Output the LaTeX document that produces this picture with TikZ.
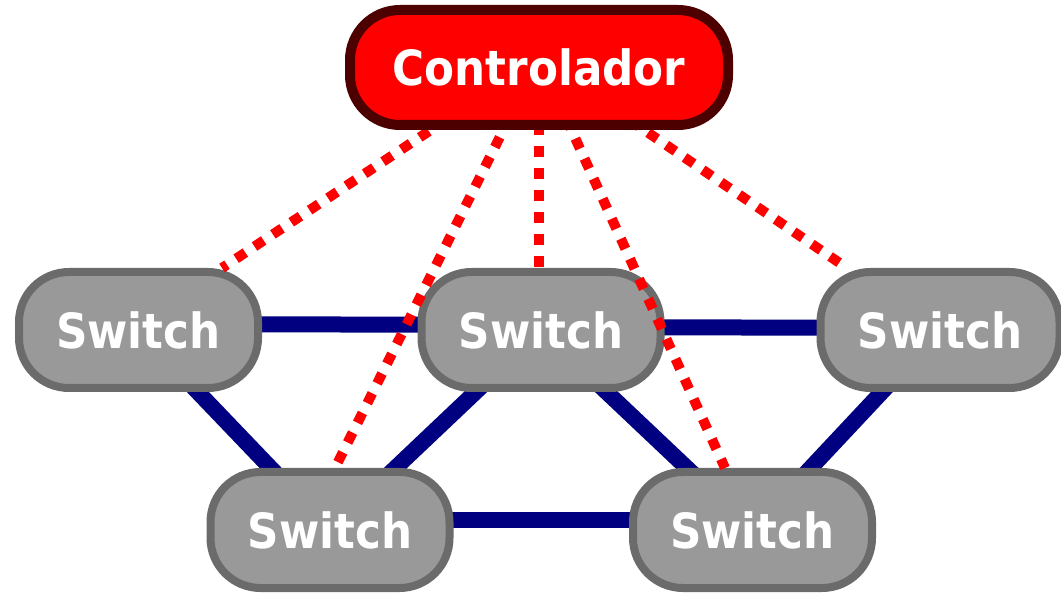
\documentclass[tikz,border=0pt]{standalone}
\usepackage{fontspec}
\newfontfamily\labelfont{DejaVu Sans}[FakeStretch=0.9]
\usetikzlibrary{calc}

\definecolor{swfill}{HTML}{999999}
\definecolor{swline}{HTML}{6B6B6B}
\definecolor{ctrlfill}{HTML}{FF0000}
\definecolor{ctrlline}{HTML}{4D0000}
\definecolor{linkblue}{HTML}{000080}
\definecolor{ctrldot}{HTML}{FF0000}

\pgfdeclarelayer{bg}
\pgfdeclarelayer{fg}
\pgfsetlayers{bg,main,fg}

\tikzset{
  switchbox/.style={draw=swline, fill=swfill, line width=8pt,
    rounded corners=50pt, minimum width=239pt, minimum height=116pt,
    inner sep=0pt, text=white,
    font=\labelfont\bfseries\fontsize{48.5}{56}\selectfont},
  ctrlbox/.style={draw=ctrlline, fill=ctrlfill, line width=10pt,
    rounded corners=50pt, minimum width=378pt, minimum height=115pt,
    inner sep=0pt, text=white,
    font=\labelfont\bfseries\fontsize{48.5}{56}\selectfont},
  datalink/.style={draw=linkblue, line width=16pt},
  ctrllink/.style={draw=ctrldot, line width=10pt,
    dash pattern=on 11pt off 11pt}
}

\begin{document}
\begin{tikzpicture}[x=1pt, y=-1pt]
  \useasboundingbox (0,0) rectangle (1061,593);

  % switches
  \node[switchbox] (s1) at (138.5,330) {Switch};
  \node[switchbox] (s2) at (541,330)   {Switch};
  \node[switchbox] (s3) at (940,330)   {Switch};
  \node[switchbox] (s4) at (330,530)   {Switch};
  \node[switchbox] (s5) at (752.5,530) {Switch};

  % controller, kept above everything else
  \begin{pgfonlayer}{fg}
    \node[ctrlbox] (ctrl) at (539,67.5) {Controlador};
  \end{pgfonlayer}

  % data-plane links between switches
  \begin{pgfonlayer}{bg}
    \draw[datalink] ([yshift=6pt]s1.center) -- ([yshift=5pt]s2.center);
    \draw[datalink] ([yshift=3pt]s2.center) -- ([yshift=2pt]s3.center);
    \draw[datalink] (s1.center) -- (s4.center);
    \draw[datalink] (s2.center) -- (s4.center);
    \draw[datalink] (s2.center) -- (s5.center);
    \draw[datalink] (s3.center) -- (s5.center);
    \draw[datalink] ([yshift=10pt]s4.center) -- ([yshift=10pt]s5.center);
  \end{pgfonlayer}

  % control channels from the controller to each switch
  \coordinate (hub) at ([yshift=9pt]ctrl.center);
  \coordinate (t1) at ([xshift=83.5pt]s1.north);
  \coordinate (t2) at ([xshift=5pt]s4.north);
  \coordinate (t3) at ([xshift=-2pt]s2.north);
  \coordinate (t4) at ([xshift=-27.5pt]s5.north);
  \coordinate (t5) at ([xshift=-93pt]s3.north);
  \draw[ctrllink] (hub) -- (t1);
  \draw[ctrllink] (hub) -- (t2);
  \draw[ctrllink] (hub) -- (t3);
  \draw[ctrllink] (hub) -- (t4);
  \draw[ctrllink] (hub) -- (t5);
\end{tikzpicture}
\end{document}
